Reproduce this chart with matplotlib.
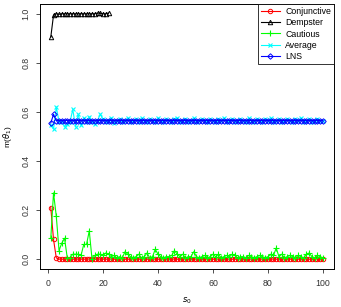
import matplotlib
matplotlib.use("Agg")
import matplotlib.pyplot as plt

plt.rcParams["font.family"] = ["Liberation Sans", "DejaVu Sans"]

# x index (s0) and the mass on theta_1 for each combination rule
s0 = list(range(1, 101))

conjunctive = [
    0.21, 0.08, 0.005, 0.0, 0.0, 0.0, 0.0, 0.0, 0.0, 0.0,
    0.0, 0.0, 0.0, 0.0, 0.0, 0.0, 0.0, 0.0, 0.0, 0.0,
    0.0, 0.0, 0.0, 0.0, 0.0, 0.0, 0.0, 0.0, 0.0, 0.0,
    0.0, 0.0, 0.0, 0.0, 0.0, 0.0, 0.0, 0.0, 0.0, 0.0,
    0.0, 0.0, 0.0, 0.0, 0.0, 0.0, 0.0, 0.0, 0.0, 0.0,
    0.0, 0.0, 0.0, 0.0, 0.0, 0.0, 0.0, 0.0, 0.0, 0.0,
    0.0, 0.0, 0.0, 0.0, 0.0, 0.0, 0.0, 0.0, 0.0, 0.0,
    0.0, 0.0, 0.0, 0.0, 0.0, 0.0, 0.0, 0.0, 0.0, 0.0,
    0.0, 0.0, 0.0, 0.0, 0.0, 0.0, 0.0, 0.0, 0.0, 0.0,
    0.0, 0.0, 0.0, 0.0, 0.0, 0.0, 0.0, 0.0, 0.0, 0.0,
]

dempster_x = list(range(1, 23))
dempster = [
    0.905, 0.995, 1.0, 0.998, 1.0, 1.0, 1.0, 1.0, 1.0, 1.0,
    1.0, 1.0, 1.0, 1.0, 1.0, 1.0, 1.0, 1.003, 1.002, 1.0,
    1.0, 1.003,
]

cautious = [
    0.085, 0.27, 0.175, 0.035, 0.065, 0.085, 0.005, 0.005, 0.02, 0.02,
    0.02, 0.015, 0.06, 0.06, 0.115, 0.0, 0.015, 0.02, 0.02, 0.015,
    0.025, 0.02, 0.01, 0.015, 0.005, 0.01, 0.005, 0.03, 0.02, 0.01,
    0.005, 0.01, 0.02, 0.005, 0.01, 0.025, 0.005, 0.01, 0.04, 0.02,
    0.01, 0.005, 0.01, 0.01, 0.015, 0.035, 0.02, 0.01, 0.02, 0.005,
    0.01, 0.01, 0.03, 0.01, 0.005, 0.01, 0.015, 0.005, 0.01, 0.02,
    0.01, 0.02, 0.005, 0.01, 0.015, 0.01, 0.02, 0.015, 0.005, 0.01,
    0.01, 0.005, 0.015, 0.01, 0.005, 0.01, 0.015, 0.01, 0.005, 0.01,
    0.02, 0.015, 0.045, 0.01, 0.02, 0.005, 0.01, 0.015, 0.01, 0.005,
    0.015, 0.01, 0.005, 0.02, 0.025, 0.01, 0.005, 0.015, 0.01, 0.005,
]

average = [
    0.545, 0.53, 0.62, 0.56, 0.565, 0.54, 0.55, 0.56, 0.61, 0.54,
    0.59, 0.545, 0.575, 0.56, 0.58, 0.56, 0.55, 0.565, 0.59, 0.57,
    0.56, 0.565, 0.575, 0.555, 0.565, 0.57, 0.56, 0.565, 0.575, 0.56,
    0.565, 0.57, 0.56, 0.575, 0.565, 0.56, 0.57, 0.565, 0.56, 0.575,
    0.565, 0.56, 0.57, 0.565, 0.56, 0.57, 0.575, 0.56, 0.565, 0.57,
    0.56, 0.565, 0.575, 0.56, 0.565, 0.57, 0.565, 0.56, 0.57, 0.565,
    0.56, 0.57, 0.565, 0.575, 0.56, 0.565, 0.57, 0.56, 0.565, 0.57,
    0.565, 0.56, 0.575, 0.565, 0.56, 0.57, 0.565, 0.56, 0.57, 0.565,
    0.575, 0.56, 0.565, 0.57, 0.56, 0.565, 0.57, 0.565, 0.56, 0.57,
    0.565, 0.575, 0.56, 0.565, 0.57, 0.56, 0.565, 0.57, 0.565, 0.565,
]

lns = [
    0.555, 0.59, 0.565, 0.565, 0.565, 0.565, 0.565, 0.565, 0.565, 0.565,
    0.565, 0.565, 0.565, 0.565, 0.565, 0.565, 0.565, 0.565, 0.565, 0.565,
    0.565, 0.565, 0.565, 0.565, 0.565, 0.565, 0.565, 0.565, 0.565, 0.565,
    0.565, 0.565, 0.565, 0.565, 0.565, 0.565, 0.565, 0.565, 0.565, 0.565,
    0.565, 0.565, 0.565, 0.565, 0.565, 0.565, 0.565, 0.565, 0.565, 0.565,
    0.565, 0.565, 0.565, 0.565, 0.565, 0.565, 0.565, 0.565, 0.565, 0.565,
    0.565, 0.565, 0.565, 0.565, 0.565, 0.565, 0.565, 0.565, 0.565, 0.565,
    0.565, 0.565, 0.565, 0.565, 0.565, 0.565, 0.565, 0.565, 0.565, 0.565,
    0.565, 0.565, 0.565, 0.565, 0.565, 0.565, 0.565, 0.565, 0.565, 0.565,
    0.565, 0.565, 0.565, 0.565, 0.565, 0.565, 0.565, 0.565, 0.565, 0.565,
]

fig = plt.figure(figsize=(3.41, 3.07), dpi=100)
ax = fig.add_axes([0.117, 0.124, 0.862, 0.863])

ms = 3.2
lw = 0.8
ax.plot(s0, conjunctive, color="red", marker="o", mfc="none", ms=ms, mew=0.7, lw=lw, label="Conjunctive")
ax.plot(dempster_x, dempster, color="black", marker="^", mfc="none", ms=ms, mew=0.7, lw=lw, label="Dempster")
ax.plot(s0, cautious, color="#00ff00", marker="+", ms=ms + 1.5, mew=0.8, lw=lw, label="Cautious")
ax.plot(s0, average, color="#00ffff", marker="x", ms=ms, mew=0.8, lw=lw, label="Average")
ax.plot(s0, lns, color="blue", marker="D", mfc="none", ms=ms - 0.4, mew=0.7, lw=lw, label="LNS")

ax.set_xlim(1 - 0.04 * 99, 100 + 0.04 * 99)
ax.set_ylim(-0.04, 1.04)
ax.set_xticks([0, 20, 40, 60, 80, 100])
ax.set_yticks([0.0, 0.2, 0.4, 0.6, 0.8, 1.0])
ax.set_yticklabels(["0.0", "0.2", "0.4", "0.6", "0.8", "1.0"], rotation=90, va="center")
ax.tick_params(labelsize=6.3, length=3, width=0.6, pad=4, colors="#333333")
for sp in ax.spines.values():
    sp.set_linewidth(0.7)

ax.set_xlabel(r"$s_0$", fontsize=6, labelpad=6)
ax.set_ylabel(r"m($\theta_1$)", fontsize=6, labelpad=5)

leg = ax.legend(loc="upper right", fontsize=6.3, frameon=True, fancybox=False,
                edgecolor="black", borderaxespad=0, handlelength=2.2,
                labelspacing=0.28, borderpad=0.3, handletextpad=0.6)
leg.get_frame().set_linewidth(0.7)

fig.savefig("out.png", dpi=100)
